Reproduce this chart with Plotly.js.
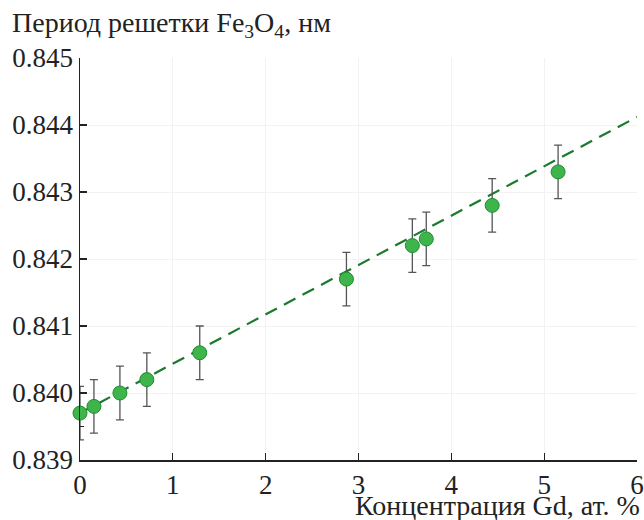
<!DOCTYPE html>
<html>
<head>
<meta charset="utf-8">
<script src="https://cdn.plot.ly/plotly-3.0.1.min.js"></script>
<style>html,body{margin:0;padding:0;background:#fff;}#chart{width:644px;height:520px;}</style>
</head>
<body>
<div id="chart"></div>
<script>
// Data
const concentration = [0, 0.15, 0.43, 0.72, 1.29, 2.87, 3.58, 3.73, 4.44, 5.15];
const latticePeriod = [0.8397, 0.8398, 0.8400, 0.8402, 0.8406, 0.8417, 0.8422, 0.8423, 0.8428, 0.8433];
const errorValues = [0.0004, 0.0004, 0.0004, 0.0004, 0.0004, 0.0004, 0.0004, 0.0004, 0.0004, 0.0004];
const fitX = [0, 6];
const fitY = [0.8397, 0.84412];
const xTicks = [0, 1, 2, 3, 4, 5, 6];
const yTicks = [0.839, 0.840, 0.841, 0.842, 0.843, 0.844, 0.845];
const yTickLabels = ["0.839", "0.840", "0.841", "0.842", "0.843", "0.844", "0.845"];

const fontFam = 'Liberation Serif, Times New Roman, serif';

const traces = [
  {
    x: fitX, y: fitY, type: 'scatter', mode: 'lines',
    line: {color: '#1b7a2e', width: 2.2, dash: '13px,8px'},
    hoverinfo: 'skip', cliponaxis: false
  },
  {
    x: concentration, y: latticePeriod, type: 'scatter', mode: 'markers',
    marker: {size: 14, color: '#3db54a', line: {color: '#1f8a33', width: 1}},
    error_y: {type: 'data', array: errorValues, visible: true, color: '#555555', thickness: 1.3, width: 4},
    cliponaxis: false
  }
];

const layout = {
  width: 644, height: 520,
  margin: {l: 80, r: 7, t: 58, b: 60},
  paper_bgcolor: '#ffffff', plot_bgcolor: '#ffffff',
  showlegend: false,
  font: {family: fontFam, size: 27, color: '#222222'},
  xaxis: {
    range: [0, 6], tickvals: xTicks, ticktext: xTicks.map(String),
    showline: true, linecolor: '#222', linewidth: 1.5,
    ticks: 'inside', ticklen: 7, tickwidth: 1.3, tickcolor: '#222',
    showgrid: true, gridcolor: '#f2f2f2', gridwidth: 1,
    zeroline: false, mirror: false,
    tickfont: {family: fontFam, size: 27, color: '#222'}
  },
  yaxis: {
    range: [0.839, 0.845], tickvals: yTicks, ticktext: yTickLabels,
    showline: true, linecolor: '#222', linewidth: 1.5,
    ticks: 'inside', ticklen: 7, tickwidth: 1.3, tickcolor: '#222',
    minor: {ticks: 'inside', ticklen: 4, tickvals: [0.8395], tickcolor: '#222', showgrid: false},
    showgrid: true, gridcolor: '#f2f2f2', gridwidth: 1,
    zeroline: false,
    tickfont: {family: fontFam, size: 27, color: '#222'}
  },
  annotations: [
    {
      text: 'Период решетки Fe<sub>3</sub>O<sub>4</sub>, нм',
      xref: 'paper', yref: 'paper',
      x: (10 - 80) / 557, y: 1 + (58 - 24) / 402,
      xanchor: 'left', yanchor: 'middle', showarrow: false,
      font: {family: fontFam, size: 28, color: '#222'}
    },
    {
      text: 'Концентрация Gd, ат. %',
      xref: 'paper', yref: 'paper',
      x: (642 - 80) / 557, y: -(505 - 460) / 402,
      xanchor: 'right', yanchor: 'middle', showarrow: false,
      font: {family: fontFam, size: 28, color: '#222'}
    }
  ]
};

Plotly.newPlot('chart', traces, layout, {displayModeBar: false, staticPlot: true});
</script>
</body>
</html>
